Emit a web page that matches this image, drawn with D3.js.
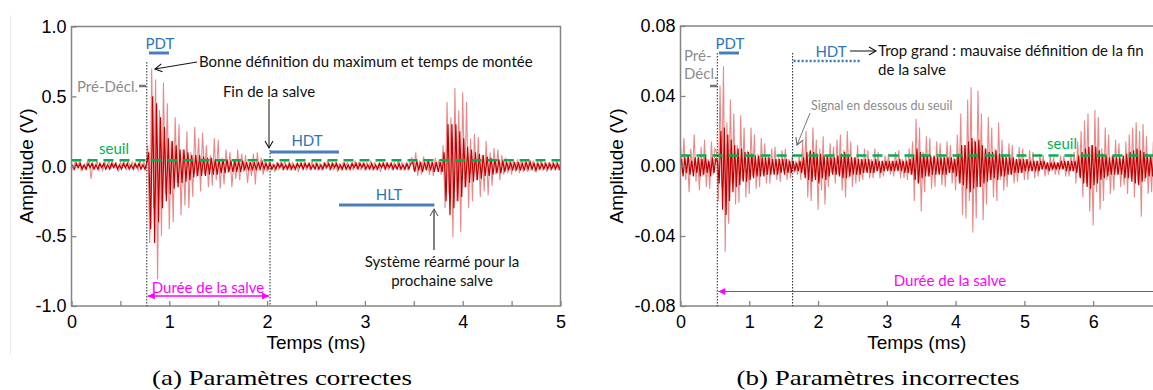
<!DOCTYPE html>
<html><head><meta charset="utf-8">
<script src="https://cdn.jsdelivr.net/npm/d3@7/dist/d3.min.js"></script>
<style>body{margin:0;background:#fff}svg{display:block}</style>
</head><body>
<svg id="c" width="1153" height="390"></svg>
<script>
// ---------- DATA ----------
// (a) waveform, sampled every 0.02 ms, amplitude in units of 0.01 V
const leftStep = 0.02;
const leftSpike = [2,-3,4,-1,3,-3,1,-2,3,5,-9,2,-1,4,-3,1,-3,3,-1,4,-2,3,-1,2,-4,3,-1,3,-3,4,-1,3,-2,1,-3,4,-1,3,-3,
15,-55,70,-30,62,-81,40,-50,60,-20,45,-45,18,-40,35,-12,30,-35,12,-28,25,-30,10,-22,28,-8,20,-18,24,-6,15,-15,8,-14,20,-10,19,-16,6,-13,12,-5,10,-15,4,-9,12,-10,9,-4,8,-12,3,-7,9,-13,10,-3,6,-6,4,-4,
3,-3,2,-4,3,-2,3,-3,4,-2,2,-3,3,-3,2,-4,3,-2,3,-3,2,-3,4,-2,3,-3,2,-3,3,-2,4,-3,2,-3,3,-4,2,-3,3,-2,3,-3,2,-3,4,-2,3,-3,2,-3,3,-2,4,-3,3,-3,2,-4,3,-2,3,-3,2,-3,3,-2,4,-3,3,-3,2,-3,4,
6,-3,10,-7,4,-6,7,-2,5,-6,3,-7,6,-2,5,-6,
15,-30,46,-20,35,-51,56,-25,40,-47,53,-15,46,-30,20,-25,23,-10,21,-22,8,-18,18,-21,10,-14,13,-6,12,-10,8,
-6,6,-5,5,-6,5,-4,5,-5,4,-4,5,-4,4,-3,4,-4,3,-3,4,-3,3,-4,3,-3,3,-3,4,-3,3];
const leftCore = [1,-2,2,-1,2,-2,1,-2,2,-1,2,-2,1,-2,2,-1,2,-2,1,-2,2,-1,2,-2,1,-2,2,-1,2,-2,1,-2,2,-1,2,-2,1,-2,2,
10,-45,50,-55,45,-40,35,-30,28,-25,20,-20,18,-16,15,-15,12,-12,12,-11,10,-10,8,-8,8,-7,8,-7,7,-7,6,-6,6,-6,5,-6,5,-5,5,-5,5,-4,4,-4,4,-4,4,-4,4,-3,3,-3,3,-3,3,-3,3,-2,3,-2,2,-2,
2,-2,1,-2,2,-1,2,-2,1,-2,2,-2,1,-2,2,-1,2,-2,2,-1,2,-2,1,-2,2,-2,1,-2,2,-1,2,-2,2,-1,2,-2,1,-2,2,-2,1,-2,2,-1,2,-2,2,-1,2,-2,1,-2,2,-2,1,-2,2,-1,2,-2,2,-1,2,-2,1,-2,2,-2,1,-2,2,-2,2,
3,-4,4,-3,3,-4,3,-3,4,-3,3,-4,3,-4,3,-4,
10,-25,30,-35,30,-30,30,-25,25,-22,20,-15,14,-12,12,-11,10,-10,9,-9,8,-7,7,-7,6,-6,5,-5,5,-5,4,
-4,3,-3,3,-3,3,-3,3,-3,2,-3,3,-2,3,-2,2,-3,2,-2,2,-2,2,-2,2,-2,2,-2,2,-2,2];

// (b) waveform, sampled every 0.025 ms, amplitude in mV
const rightStep = 0.025;
const rightSpike = [12,-4,16,-8,6,-15,10,-3,18,-9,5,-14,11,-6,15,-12,4,-13,14,-5,10,
8,-20,46,-12,57,-49,25,-33,38,-10,30,-22,12,-21,29,-8,22,-18,9,-16,22,-6,18,-13,7,-12,16,-5,13,-10,6,-10,10,-4,11,-8,5,-9,9,-3,10,-8,4,-7,6,-4,3,-5,6,-8,
14,-5,20,-18,8,-20,22,-6,15,-25,10,-14,17,-22,6,-12,13,-4,11,-10,15,-5,18,-14,9,-18,20,-7,14,-12,5,-10,12,-9,4,-8,10,-3,9,-7,4,-7,10,-3,8,-7,3,-6,6,-2,7,-5,3,-6,8,-2,9,-7,4,-7,6,-8,10,-5,14,
-20,27,-10,22,-26,8,-15,17,-6,16,-13,5,-12,14,-4,13,-11,6,-12,14,-4,12,-10,5,-14,
18,-10,30,-28,12,-30,38,-20,45,-38,15,-30,43,-12,30,-31,10,-22,28,-8,22,-18,10,-20,25,-8,15,-14,6,-12,13,-5,12,-10,4,-9,11,-4,10,-8,
4,-8,9,-3,8,-7,3,-6,7,-2,6,-6,2,-5,6,-3,5,-5,2,-5,6,-2,6,-6,3,-6,7,-3,8,-10,
14,-6,20,-18,26,-10,30,-26,12,-34,32,-15,28,-25,10,-20,22,-8,18,-16,6,-14,15,-5,13,-12,4,-11,14,-16,18,-7,22,-18,25,-10,20,-29,24,-9,17,-16,6,-15,14];
const rightCore = [4,-6,5,-4,6,-5,3,-6,5,-4,5,-6,4,-5,6,-4,3,-6,5,-4,4,
3,-10,20,-25,22,-28,18,-20,15,-15,12,-12,10,-11,10,-9,8,-9,8,-8,7,-7,6,-6,6,-6,5,-6,5,-5,5,-5,4,-5,4,-5,4,-4,4,-5,4,-4,3,-4,3,-3,2,-3,3,-4,
5,-7,8,-8,9,-9,8,-8,7,-10,7,-7,6,-8,6,-6,5,-5,5,-5,6,-6,7,-7,8,-7,6,-6,5,-5,5,-5,4,-5,4,-4,4,-4,4,-4,3,-4,4,-3,3,-4,3,-3,3,-3,3,-3,3,-3,3,-3,4,-3,3,-4,3,-4,4,-5,6,
-8,10,-10,8,-7,7,-6,6,-6,6,-5,6,-5,5,-5,5,-5,5,-5,5,-4,5,-4,4,-6,
7,-10,12,-11,12,-13,14,-15,16,-13,14,-12,15,-12,12,-10,10,-9,8,-8,8,-7,9,-8,7,-6,6,-6,5,-5,5,-5,5,-4,4,-4,4,-4,4,-3,
4,-3,3,-3,3,-3,3,-3,3,-2,3,-2,2,-3,2,-2,2,-2,2,-2,3,-2,3,-3,3,-3,3,-3,3,-4,
6,-7,8,-10,10,-12,11,-13,12,-11,11,-10,9,-8,7,-7,6,-6,5,-5,6,-5,5,-5,5,-5,6,-7,7,-7,8,-9,9,-10,10,-11,9,-9,8,-7,7,-6,6,-6,6];

const leftXTicks = [0,1,2,3,4,5];
const leftXMinor = [0.5,1.5,2.5,3.5,4.5];
const leftYTicks = [-1,-0.5,0,0.5,1];
const leftYLabels = ["-1.0","-0.5","0.0","0.5","1.0"];
const rightXTicks = [0,1,2,3,4,5,6];
const rightYTicks = [-0.08,-0.04,0,0.04,0.08];
const rightYLabels = ["-0.08","-0.04","0.00","0.04","0.08"];
const leftThreshold = 0.043, rightThreshold = 0.006;
const leftTrigger = 0.77, leftEnd = 2.03, leftHLTEnd = 3.71;
const rightTrigger = 0.535, rightEnd = 1.63;

// ---------- DRAW ----------
const svg = d3.select("#c");
const AX = "#858585";
const AN = "Lato, 'Open Sans', sans-serif";
const defs = svg.append("defs");
function marker(id, color, filled){
  const m = defs.append("marker").attr("id", id).attr("markerUnits","userSpaceOnUse")
    .attr("viewBox","-10 -6 12 12").attr("refX",0).attr("refY",0)
    .attr("markerWidth",12).attr("markerHeight",12).attr("orient","auto-start-reverse");
  if (filled) m.append("path").attr("d","M-7,-3.5L0,0L-7,3.5Z").attr("fill",color);
  else m.append("path").attr("d","M-7,-4L0,0L-7,4").attr("fill","none").attr("stroke",color).attr("stroke-width",1.1);
}
marker("aBlack","#111",false);
marker("aGray","#666",false);
marker("aMag","#ff00ff",true);

svg.append("line").attr("x1",10.5).attr("x2",10.5).attr("y1",15).attr("y2",355).attr("stroke","#ececec");

function panel(o){
  const g = svg.append("g");
  const clipId = "clip"+o.id;
  defs.append("clipPath").attr("id",clipId).append("rect")
    .attr("x",o.x.range()[0]).attr("y",o.y.range()[1]).attr("width",o.x.range()[1]-o.x.range()[0]).attr("height",o.y.range()[0]-o.y.range()[1]);
  const data = g.append("g").attr("clip-path",`url(#${clipId})`);
  const spike = o.spike.map((v,i)=>[i*o.step, v*o.unit]);
  const core = o.core.map((v,i)=>[(i+0.5)*o.step, v*o.unit]);
  const line = d3.line().x(d=>o.x(d[0])).y(d=>o.y(d[1]));
  data.append("path").attr("d",line(spike)).attr("fill","none").attr("stroke","#d62a2a").attr("stroke-opacity",0.55).attr("stroke-width",1.1);
  data.append("path").attr("d",line(core)).attr("fill","none").attr("stroke","#c00000").attr("stroke-width",1.2);
  // threshold
  data.append("line").attr("x1",o.x.range()[0]).attr("x2",o.x.range()[1]).attr("y1",o.y(o.thr)).attr("y2",o.y(o.thr))
    .attr("stroke","#00b050").attr("stroke-width",2.5).attr("stroke-dasharray","10,6");
  // axes
  const xa = d3.axisBottom(o.x).tickValues(o.xt).tickFormat(d3.format("d")).tickSize(-5).tickPadding(9);
  const ya = d3.axisLeft(o.y).tickValues(o.yt).tickFormat((d,i)=>o.yl[i]).tickSize(-5).tickPadding(5);
  g.append("g").attr("transform",`translate(0,${o.y.range()[0]})`).call(xa);
  g.append("g").attr("transform",`translate(${o.x.range()[0]},0)`).call(ya);
  if (o.xm) g.append("g").attr("transform",`translate(0,${o.y.range()[0]})`).call(d3.axisBottom(o.x).tickValues(o.xm).tickFormat("").tickSize(-5));
  g.selectAll(".domain").remove();
  g.selectAll(".tick line").attr("stroke",AX).attr("stroke-width",1.3);
  g.selectAll(".tick text").attr("font-family","'Liberation Sans', Arial, sans-serif").attr("font-size",18).attr("fill","#000");
  const x0=o.x.range()[0], x1=o.x.range()[1], yb=o.y.range()[0], yt=o.y.range()[1];
  g.append("path").attr("d", o.box ? `M${x0},${yt}H${x1}V${yb}H${x0}Z` : `M${x1},${yt}H${x0}V${yb}H${x1}`)
    .attr("fill","none").attr("stroke",AX).attr("stroke-width",1.5);
  g.append("text").attr("x",(x0+(o.titleCx||x1))/2).attr("y",349).attr("text-anchor","middle")
    .attr("font-family","'Liberation Sans', Arial, sans-serif").attr("font-size",19).text("Temps (ms)");
  g.append("text").attr("transform",`translate(${o.yTitleX},166) rotate(-90)`).attr("text-anchor","middle")
    .attr("font-family","'Liberation Sans', Arial, sans-serif").attr("font-size",19).text("Amplitude (V)");
  g.append("text").attr("x",o.capX).attr("y",385).attr("text-anchor","middle")
    .attr("font-family","'Liberation Serif', 'DejaVu Serif', serif").attr("font-size",21)
    .attr("textLength",o.capW).attr("lengthAdjust","spacingAndGlyphs").text(o.caption);
  return g;
}

const xL = d3.scaleLinear().domain([0,5]).range([71.5,560.5]);
const yL = d3.scaleLinear().domain([-1,1]).range([306,26.5]);
const xR = d3.scaleLinear().domain([0,6.87]).range([680.5,1153]);
const yR = d3.scaleLinear().domain([-0.08,0.08]).range([306,26]);

panel({id:"L",x:xL,y:yL,spike:leftSpike,core:leftCore,step:leftStep,unit:0.01,thr:leftThreshold,
  xt:leftXTicks,xm:leftXMinor,yt:leftYTicks,yl:leftYLabels,box:true,yTitleX:33,caption:"(a) Paramètres correctes",capX:282,capW:260});
panel({id:"R",x:xR,y:yR,spike:rightSpike,core:rightCore,step:rightStep,unit:0.001,thr:rightThreshold,
  xt:rightXTicks,xm:null,yt:rightYTicks,yl:rightYLabels,box:false,yTitleX:623,titleCx:1153,caption:"(b) Paramètres incorrectes",capX:878,capW:283});

// ---------- ANNOTATIONS ----------
function txt(x,y,s,color,size,anchor){
  return svg.append("text").attr("x",x).attr("y",y).attr("dominant-baseline","central")
    .attr("text-anchor",anchor||"start").attr("font-family",AN).attr("font-size",size||14.5).attr("fill",color).text(s);
}
function seg(x1,y1,x2,y2,color,w,dash){
  return svg.append("line").attr("x1",x1).attr("y1",y1).attr("x2",x2).attr("y2",y2)
    .attr("stroke",color).attr("stroke-width",w||1).attr("stroke-dasharray",dash||null);
}
const BLUE="#2e75b6", BAR="#4a7ebb", GRAY="#8c8c8c", GREEN="#00b050", MAG="#ff00ff";

// (a)
seg(xL(leftTrigger),62,xL(leftTrigger),306,"#222",1,"1.5,1.5");
seg(xL(leftEnd),150,xL(leftEnd),306,"#222",1,"1.5,1.5");
txt(160,43,"PDT",BLUE,15,"middle");
seg(149,53,169,53,BAR,3);
txt(77,86,"Pré-Décl.",GRAY,15);
seg(139,86,146,86,"#777",2.5);
txt(199,61,"Bonne définition du maximum et temps de montée","#111",15);
seg(197,62,155,69,"#111",1).attr("marker-end","url(#aBlack)");
txt(269,91,"Fin de la salve","#111",15,"middle");
seg(269,99,269,148,"#111",1).attr("marker-end","url(#aBlack)");
txt(307,140,"HDT",BLUE,15,"middle");
seg(xL(leftEnd),152,339,152,BAR,3);
txt(114,148,"seuil",GREEN,15,"middle");
txt(389,194,"HLT",BLUE,15,"middle");
seg(339,205,xL(leftHLTEnd),205,BAR,3);
seg(434,250,434,209,"#555",1.5).attr("marker-end","url(#aGray)");
txt(442,261,"Système réarmé pour la","#111",15,"middle");
txt(442,280,"prochaine salve","#111",15,"middle");
txt(208,287,"Durée de la salve",MAG,15,"middle");
seg(xL(leftTrigger)+1,296,xL(leftEnd)-1,296,MAG,1.5).attr("marker-start","url(#aMag)").attr("marker-end","url(#aMag)");

// (b)
seg(xR(rightTrigger),53,xR(rightTrigger),306,"#222",1,"1.5,1.5");
seg(xR(rightEnd),53,xR(rightEnd),306,"#222",1,"1.5,1.5");
txt(684,55,"Pré-",GRAY,15);
txt(684,73,"Décl.",GRAY,15);
seg(710,86,717,86,"#777",2.5);
txt(730,43,"PDT",BLUE,15,"middle");
seg(719,53,739,53,BAR,3);
txt(831,51,"HDT",BLUE,15,"middle");
seg(850,51,876,51,"#111",1).attr("marker-end","url(#aBlack)");
seg(xR(rightEnd)+1,61,860,61,BLUE,2.5,"2,2");
txt(878,50,"Trop grand : mauvaise définition de la fin","#111",15);
txt(878,69,"de la salve","#111",15);
txt(811,105,"Signal en dessous du seuil",GRAY,12.5);
seg(810,113,797,145,"#777",1).attr("marker-end","url(#aGray)");
txt(1062,143,"seuil",GREEN,15,"middle");
txt(950,280,"Durée de la salve",MAG,15,"middle");
seg(xR(rightTrigger)+1,291.5,1153,291.5,MAG,1.2).attr("marker-start","url(#aMag)");
</script>
</body></html>
